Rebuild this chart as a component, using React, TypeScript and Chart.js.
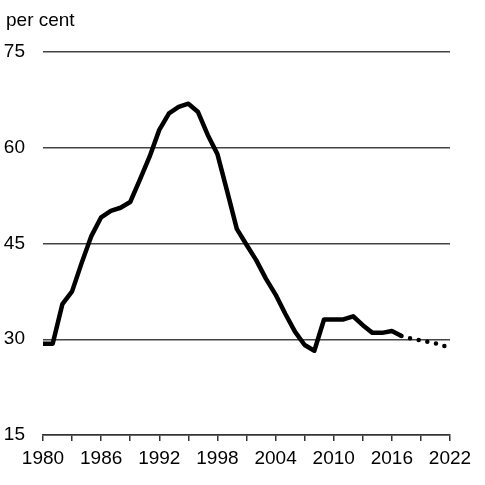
import React, { useEffect, useRef } from "react";
import { Chart, registerables } from "chart.js";

Chart.register(...registerables);

const actualYears = [
  1980, 1981, 1982, 1983, 1984, 1985, 1986, 1987, 1988, 1989,
  1990, 1991, 1992, 1993, 1994, 1995, 1996, 1997, 1998, 1999,
  2000, 2001, 2002, 2003, 2004, 2005, 2006, 2007, 2008, 2009,
  2010, 2011, 2012, 2013, 2014, 2015, 2016, 2017,
];
const actualValues = [
  29.3, 29.3, 35.5, 37.5, 42.0, 46.2, 49.1, 50.1, 50.6, 51.5,
  55.0, 58.6, 62.8, 65.4, 66.4, 66.9, 65.6, 62.0, 59.0, 53.2,
  47.3, 44.8, 42.4, 39.5, 37.0, 34.0, 31.2, 29.1, 28.2, 33.1,
  33.1, 33.1, 33.6, 32.2, 31.0, 31.0, 31.3, 30.5,
];
const projectionYears = [2017, 2018, 2019, 2020, 2021, 2022];
const projectionValues = [30.5, 30.1, 29.8, 29.5, 29.2, 28.6];

const yTicks = [15, 30, 45, 60, 75];
const xLabelYears = [1980, 1986, 1992, 1998, 2004, 2010, 2016, 2022];
const yTitle = "per cent";

const FONT = '"Liberation Sans", Arial, sans-serif';
const FONT_SIZE = 19;

export default function App() {
  const ref = useRef<HTMLCanvasElement | null>(null);

  useEffect(() => {
    const canvas = ref.current;
    if (!canvas) return;

    const titlePlugin = {
      id: "perCent",
      afterDraw(chart: any) {
        const ctx = chart.ctx;
        ctx.save();
        ctx.font = `${FONT_SIZE}px ${FONT}`;
        ctx.fillStyle = "#000";
        ctx.textAlign = "left";
        ctx.textBaseline = "alphabetic";
        ctx.fillText(yTitle, 6, 26);
        ctx.restore();
      },
    };

    const chart = new Chart(canvas, {
      type: "line",
      data: {
        datasets: [
          {
            data: actualYears.map((x, i) => ({ x, y: actualValues[i] })),
            borderColor: "#000",
            borderWidth: 4.5,
            pointRadius: 0,
            tension: 0,
            borderJoinStyle: "round",
          },
          {
            data: projectionYears.map((x, i) => ({ x, y: projectionValues[i] })),
            borderColor: "#000",
            borderWidth: 4.5,
            borderDash: [0, 8.8],
            borderCapStyle: "round",
            pointRadius: 0,
            tension: 0,
          },
        ],
      },
      options: {
        responsive: false,
        animation: false,
        layout: { padding: { top: 52, right: 35, left: 0, bottom: 0 } },
        plugins: {
          legend: { display: false },
          tooltip: { enabled: false },
        },
        scales: {
          x: {
            type: "linear",
            min: 1980,
            max: 2022,
            afterFit(scale: any) {
              scale.height = 50;
            },
            ticks: {
              stepSize: 3,
              autoSkip: false,
              maxRotation: 0,
              padding: 6,
              color: "#000",
              font: { family: FONT, size: FONT_SIZE },
              callback: (v: any) =>
                xLabelYears.includes(Number(v)) ? String(v) : "",
            },
            grid: {
              display: true,
              drawOnChartArea: false,
              drawTicks: true,
              tickLength: 6,
              color: "#333",
              lineWidth: 1.5,
            },
            border: { display: true, color: "#333", width: 1.5 },
          },
          y: {
            min: 15,
            max: 75,
            afterFit(scale: any) {
              scale.width = 43;
            },
            afterBuildTicks(scale: any) {
              scale.ticks = yTicks.map((value) => ({ value }));
            },
            ticks: {
              padding: 18,
              color: "#000",
              font: { family: FONT, size: FONT_SIZE },
            },
            grid: {
              drawTicks: false,
              color: "#444",
              lineWidth: 1.4,
            },
            border: { display: false },
          },
        },
      },
      plugins: [titlePlugin],
    } as any);

    return () => chart.destroy();
  }, []);

  return (
    <div style={{ position: "absolute", left: 0, top: 0, width: 485, height: 485, background: "#fff" }}>
      <canvas ref={ref} width={485} height={485} style={{ display: "block" }} />
    </div>
  );
}
